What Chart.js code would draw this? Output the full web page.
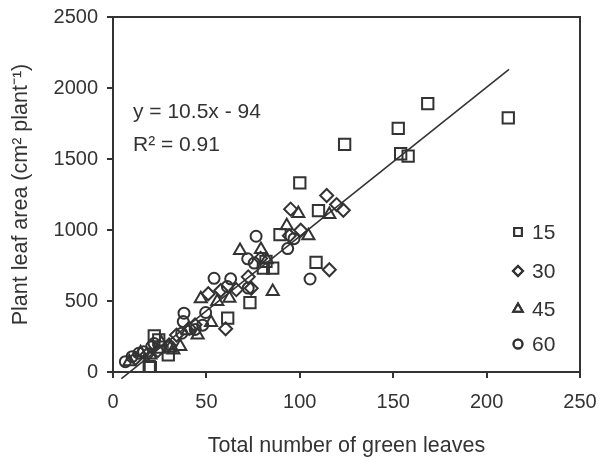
<!DOCTYPE html>
<html>
<head>
<meta charset="utf-8">
<script src="https://cdn.jsdelivr.net/npm/chart.js@4.4.0/dist/chart.umd.min.js"></script>
<style>
  html, body { margin: 0; padding: 0; background: #fff; }
  #wrap { width: 601px; height: 461px; }
</style>
</head>
<body>
<div id="wrap"><canvas id="chart"></canvas></div>
<script>
// --- data ---
const seriesLabels = ['15', '30', '45', '60'];

const sqX = [211.6, 168.5, 152.7, 154, 158, 124, 100, 110, 89.4, 81.9, 80.5, 85.5, 108.7, 73.3, 61.4, 22.1, 24.5, 29.6, 19.4, 25, 20];
const sqY = [1789, 1890, 1716, 1537, 1520, 1603, 1332, 1137, 967, 779, 732, 732, 772, 489, 380, 254, 226, 120, 40, 175, 30];

const diX = [114.4, 119.7, 123.3, 95.1, 100.5, 94.4, 115.8, 72.4, 74, 51, 57.7, 60.3, 40.8, 43.9, 30, 24, 18, 12, 34, 79, 66];
const diY = [1243, 1179, 1139, 1147, 998, 960, 720, 670, 590, 551, 574, 304, 308, 332, 190, 150, 120, 95, 260, 800, 580];

const trX = [115.8, 99.2, 93, 104.6, 68, 79.2, 82.3, 85.5, 47, 55.8, 62.3, 52.5, 45.3, 32.3, 14.8, 8.7, 26, 30.5, 40, 20, 36];
const trY = [1109, 1117, 1030, 960, 855, 862, 791, 567, 516, 497, 520, 348, 261, 155, 136, 73, 203, 167, 290, 120, 180];

const ciX = [76.6, 96.9, 93.5, 72.1, 75.6, 54.1, 63, 105.5, 72.4, 61.2, 49.6, 38, 37.6, 36.8, 20.7, 6.6, 10.2, 13.8, 16.4, 44, 48, 22];
const ciY = [956, 939, 869, 797, 767, 660, 656, 655, 591, 602, 419, 414, 355, 273, 179, 73, 108, 132, 143, 300, 330, 200];

// regression y = 10.5x - 94, drawn from x = 4.5 to 212
const fitX = [4.5, 212];
const fitY = fitX.map(x => 10.5 * x - 94);

const xTicks = [0, 50, 100, 150, 200, 250];
const yTicks = [0, 500, 1000, 1500, 2000, 2500];

const ink = '#333333';
const font = "'Liberation Sans', Arial, sans-serif";

function pts(xs, ys) { return xs.map((x, i) => ({ x: x, y: ys[i] })); }

function markerSet(label, xs, ys, style, r) {
    return {
        type: 'scatter', label: label, data: pts(xs, ys),
        pointStyle: style, pointRadius: r, pointHoverRadius: r,
        borderColor: ink, backgroundColor: 'rgba(0,0,0,0)', pointBorderWidth: 2
    };
}

// frame around the plot, equation and the in-plot legend
const extras = {
    id: 'extras',
    afterDatasetsDraw(chart) {
        const ctx = chart.ctx;
        const a = chart.chartArea;
        ctx.save();
        ctx.strokeStyle = ink;
        ctx.lineWidth = 2;
        ctx.strokeRect(a.left, a.top, a.right - a.left, a.bottom - a.top);

        ctx.fillStyle = ink;
        ctx.font = '21px ' + font;
        ctx.textBaseline = 'middle';
        ctx.textAlign = 'left';
        ctx.fillText('y = 10.5x - 94', a.left + 20, 112);
        ctx.fillText('R\u00b2 = 0.91', a.left + 20, 145);

        const styles = ['rect', 'rectRot', 'triangle', 'circle'];
        const radii = [5.5, 5, 5.5, 4.5];
        const ly = [232, 271, 309, 344];
        seriesLabels.forEach((lab, i) => {
            ctx.lineWidth = 2;
            ctx.fillStyle = 'rgba(0,0,0,0)';
            Chart.helpers.drawPoint(ctx, { pointStyle: styles[i], radius: radii[i], borderWidth: 2 }, 518, ly[i]);
            ctx.stroke();
            ctx.fillStyle = ink;
            ctx.fillText(lab, 532, ly[i] + 1);
        });
        ctx.restore();
    }
};

new Chart(document.getElementById('chart'), {
    type: 'scatter',
    data: {
        datasets: [
            markerSet(seriesLabels[0], sqX, sqY, 'rect', 8),
            markerSet(seriesLabels[1], diX, diY, 'rectRot', 6.5),
            markerSet(seriesLabels[2], trX, trY, 'triangle', 7),
            markerSet(seriesLabels[3], ciX, ciY, 'circle', 5.5),
            {
                type: 'line', label: 'fit', data: pts(fitX, fitY),
                borderColor: ink, borderWidth: 1.6, pointRadius: 0, fill: false, clip: false
            }
        ]
    },
    options: {
        responsive: true,
        maintainAspectRatio: false,
        animation: false,
        layout: { padding: { top: 17, right: 21, left: 0, bottom: 0 } },
        plugins: { legend: { display: false }, tooltip: { enabled: false } },
        scales: {
            x: {
                type: 'linear', min: 0, max: 250,
                afterBuildTicks: s => { s.ticks = xTicks.map(v => ({ value: v })); },
                afterFit: s => { s.height = 89; s.paddingLeft = 0; s.paddingRight = 0; },
                grid: { display: true, drawOnChartArea: false, drawTicks: true, tickLength: 6, color: ink, lineWidth: 2 },
                border: { display: true, color: ink, width: 2 },
                ticks: { color: ink, font: { size: 20, family: font }, padding: 12, maxRotation: 0, callback: v => String(v) },
                title: { display: true, text: 'Total number of green leaves', color: ink, font: { size: 21.5, family: font }, padding: { top: 4, bottom: 2 } }
            },
            y: {
                type: 'linear', min: 0, max: 2500,
                afterBuildTicks: s => { s.ticks = yTicks.map(v => ({ value: v })); },
                afterFit: s => { s.width = 113; s.paddingTop = 0; s.paddingBottom = 0; },
                grid: { display: true, drawOnChartArea: false, drawTicks: true, tickLength: 6, color: ink, lineWidth: 2 },
                border: { display: true, color: ink, width: 2 },
                ticks: { color: ink, font: { size: 20, family: font }, padding: 9, callback: v => String(v) },
                title: { display: true, text: 'Plant leaf area (cm\u00b2 plant\u207b\u00b9)', color: ink, font: { size: 21.5, family: font }, padding: { top: 8, bottom: 4 } }
            }
        }
    },
    plugins: [extras]
});
</script>
</body>
</html>
